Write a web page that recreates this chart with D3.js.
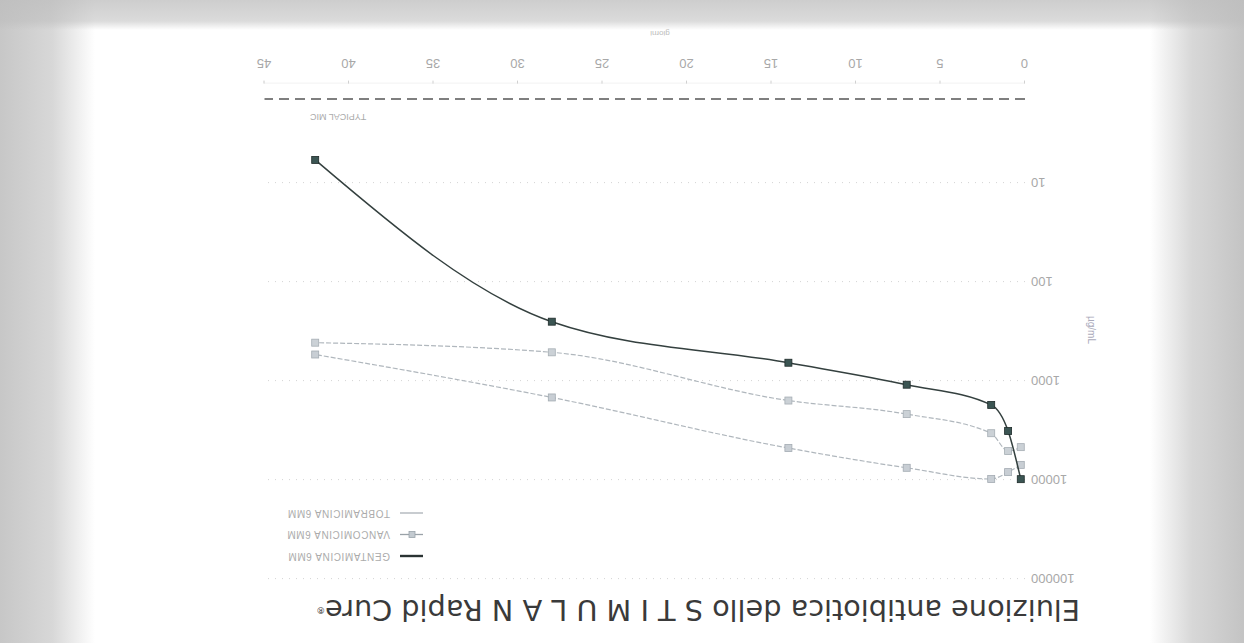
<!DOCTYPE html>
<html><head><meta charset="utf-8">
<script src="https://cdn.jsdelivr.net/npm/d3@7/dist/d3.min.js"></script>
<style>html,body{margin:0;padding:0;background:#fff;overflow:hidden}</style>
</head><body>
<svg id="chart" width="1244" height="643"></svg>
<script>
// ---- data (days vs µg/mL) ----
const days = [0.25, 1, 2, 7, 14, 28, 42];
const gentamicina = [9900, 3230, 1760, 1100, 660, 254, 5.9];
const vancomicina = [7100, 8400, 9860, 7600, 4800, 1480, 545];
const tobramicina = [4700, 5150, 3400, 2180, 1590, 518, 414];
const seriesNames = ["GENTAMICINA 6MM", "VANCOMICINA 6MM", "TOBRAMICINA 6MM"];
const xTicks = [0, 5, 10, 15, 20, 25, 30, 35, 40, 45];
const yTicks = [10, 100, 1000, 10000, 100000];
const typicalMic = 1.43;
const titleText = "Eluizione antibiotica dello S T I M U L A N Rapid Cure";

const W = 1244, H = 643;
const svg = d3.select("#chart");
const defs = svg.append("defs");

// scanned-page background
function grad(id, x1, x2, y1, y2, stops) {
  const g = defs.append("linearGradient").attr("id", id).attr("gradientUnits", "userSpaceOnUse")
    .attr("x1", x1).attr("x2", x2).attr("y1", y1).attr("y2", y2);
  stops.forEach(s => g.append("stop").attr("offset", s[0]).attr("stop-color", "#bdbdbd").attr("stop-opacity", s[1]));
}
grad("gl", 0, 95, 0, 0, [[0, 0.85], [0.55, 0.6], [1, 0]]);
grad("gr", 1150, 1244, 0, 0, [[0, 0], [0.45, 0.6], [1, 0.9]]);
grad("gt", 0, 0, 0, 30, [[0, 0.75], [0.7, 0.55], [1, 0]]);
svg.append("rect").attr("width", W).attr("height", H).attr("fill", "#fff");
svg.append("rect").attr("x", 0).attr("y", 0).attr("width", 95).attr("height", H).attr("fill", "url(#gl)");
svg.append("rect").attr("x", 1150).attr("y", 0).attr("width", 94).attr("height", H).attr("fill", "url(#gr)");
svg.append("rect").attr("x", 0).attr("y", 0).attr("width", W).attr("height", 30).attr("fill", "url(#gt)");

// the whole page is upside down
const g = svg.append("g").attr("transform", `rotate(180 ${W / 2} ${H / 2})`);

const x = d3.scaleLinear().domain([0, 45]).range([219, 979.5]);
const y = d3.scaleLog().domain([1, 100000]).range([559.4, 64.4]);

const font = "'Liberation Sans', Arial, sans-serif";

// gridlines
g.append("g").selectAll("line").data(yTicks).join("line")
  .attr("x1", x(0)).attr("x2", x(45))
  .attr("y1", d => y(d)).attr("y2", d => y(d))
  .attr("stroke", "#d4d4d4").attr("stroke-width", 1).attr("stroke-dasharray", "1,6");

// x axis
const xAxis = d3.axisBottom(x).tickValues(xTicks).tickSize(3).tickPadding(12);
const gx = g.append("g").attr("transform", `translate(0,${y(1)})`).call(xAxis);
gx.select(".domain").attr("stroke", "#f2f2f2");
gx.selectAll(".tick line").attr("stroke", "#d0d0d0");
gx.selectAll("text").attr("font-family", font).attr("font-size", 13).attr("fill", "#a8a8a8");

// y axis
const yAxis = d3.axisLeft(y).tickValues(yTicks).tickFormat(d3.format("d")).tickSize(0).tickPadding(6);
const gy = g.append("g").attr("transform", `translate(${x(0)},0)`).call(yAxis);
gy.select(".domain").remove();
gy.selectAll("text").attr("font-family", font).attr("font-size", 13).attr("fill", "#a8a8a8");

// axis titles
g.append("text").attr("transform", "translate(156,313) rotate(-90)")
  .attr("text-anchor", "middle").attr("font-family", font).attr("font-size", 10)
  .attr("fill", "#aab").text("µg/mL");
g.append("text").attr("x", 584).attr("y", 612).attr("text-anchor", "middle")
  .attr("font-family", font).attr("font-size", 8).attr("fill", "#bbb").text("giorni");

// typical MIC dashed line
g.append("line").attr("x1", x(0)).attr("x2", x(45))
  .attr("y1", y(typicalMic)).attr("y2", y(typicalMic))
  .attr("stroke", "#555").attr("stroke-width", 1.5).attr("stroke-dasharray", "10,6");
g.append("text").attr("x", 934).attr("y", 529).attr("text-anchor", "end")
  .attr("font-family", font).attr("font-size", 9).attr("fill", "#aaa").text("TYPICAL MIC");

// series
const series = [
  { name: seriesNames[1], vals: vancomicina, line: "#b0b7bd", mark: "#c8ced4", mstroke: "#a3abb2", w: 1.2, dash: "5,2" },
  { name: seriesNames[2], vals: tobramicina, line: "#b0b7bd", mark: "#cbd1d6", mstroke: "#a6aeb4", w: 1.2, dash: "5,2" },
  { name: seriesNames[0], vals: gentamicina, line: "#34403f", mark: "#3b5553", mstroke: "#1f2b2a", w: 1.5, dash: null },
];
const lineGen = d3.line().x(d => x(d[0])).y(d => y(d[1])).curve(d3.curveMonotoneX);
series.forEach(s => {
  const pts = days.map((d, i) => [d, s.vals[i]]);
  g.append("path").datum(pts).attr("d", lineGen).attr("fill", "none")
    .attr("stroke", s.line).attr("stroke-width", s.w).attr("stroke-dasharray", s.dash);
  g.append("g").selectAll("rect").data(pts).join("rect")
    .attr("x", d => x(d[0]) - 3.5).attr("y", d => y(d[1]) - 3.5)
    .attr("width", 7).attr("height", 7)
    .attr("fill", s.mark).attr("stroke", s.mstroke).attr("stroke-width", 0.8);
});

// legend
const legend = [
  { name: seriesNames[0], color: "#2a3333", w: 2.4, marker: false },
  { name: seriesNames[1], color: "#9aa2a8", w: 1.3, marker: true },
  { name: seriesNames[2], color: "#aab1b6", w: 1.3, marker: false },
];
const lg = g.append("g");
legend.forEach((l, i) => {
  const yy = 87 + i * 21.5;
  lg.append("line").attr("x1", 821).attr("x2", 844).attr("y1", yy).attr("y2", yy)
    .attr("stroke", l.color).attr("stroke-width", l.w);
  if (l.marker) lg.append("rect").attr("x", 829).attr("y", yy - 3).attr("width", 6).attr("height", 6)
    .attr("fill", "#c3cad0").attr("stroke", "#9aa3aa").attr("stroke-width", 0.8);
  lg.append("text").attr("x", 854).attr("y", yy + 3.5).attr("font-family", font)
    .attr("font-size", 10).attr("fill", "#ababab").attr("letter-spacing", 0.6).text(l.name);
});

// title
const t = g.append("text").attr("x", 164).attr("y", 43)
  .attr("font-family", "'DejaVu Sans', sans-serif").attr("font-size", 18).attr("fill", "#3a3a3a");
t.append("tspan").text(titleText);
t.append("tspan").attr("font-size", 9).attr("dy", -7).text("®");
// fit the main text width to the reference
const main = t.select("tspan").node();
const len = main.getComputedTextLength();
const fs = 18 * 755 / len;
t.attr("font-size", fs);
</script>
</body></html>
